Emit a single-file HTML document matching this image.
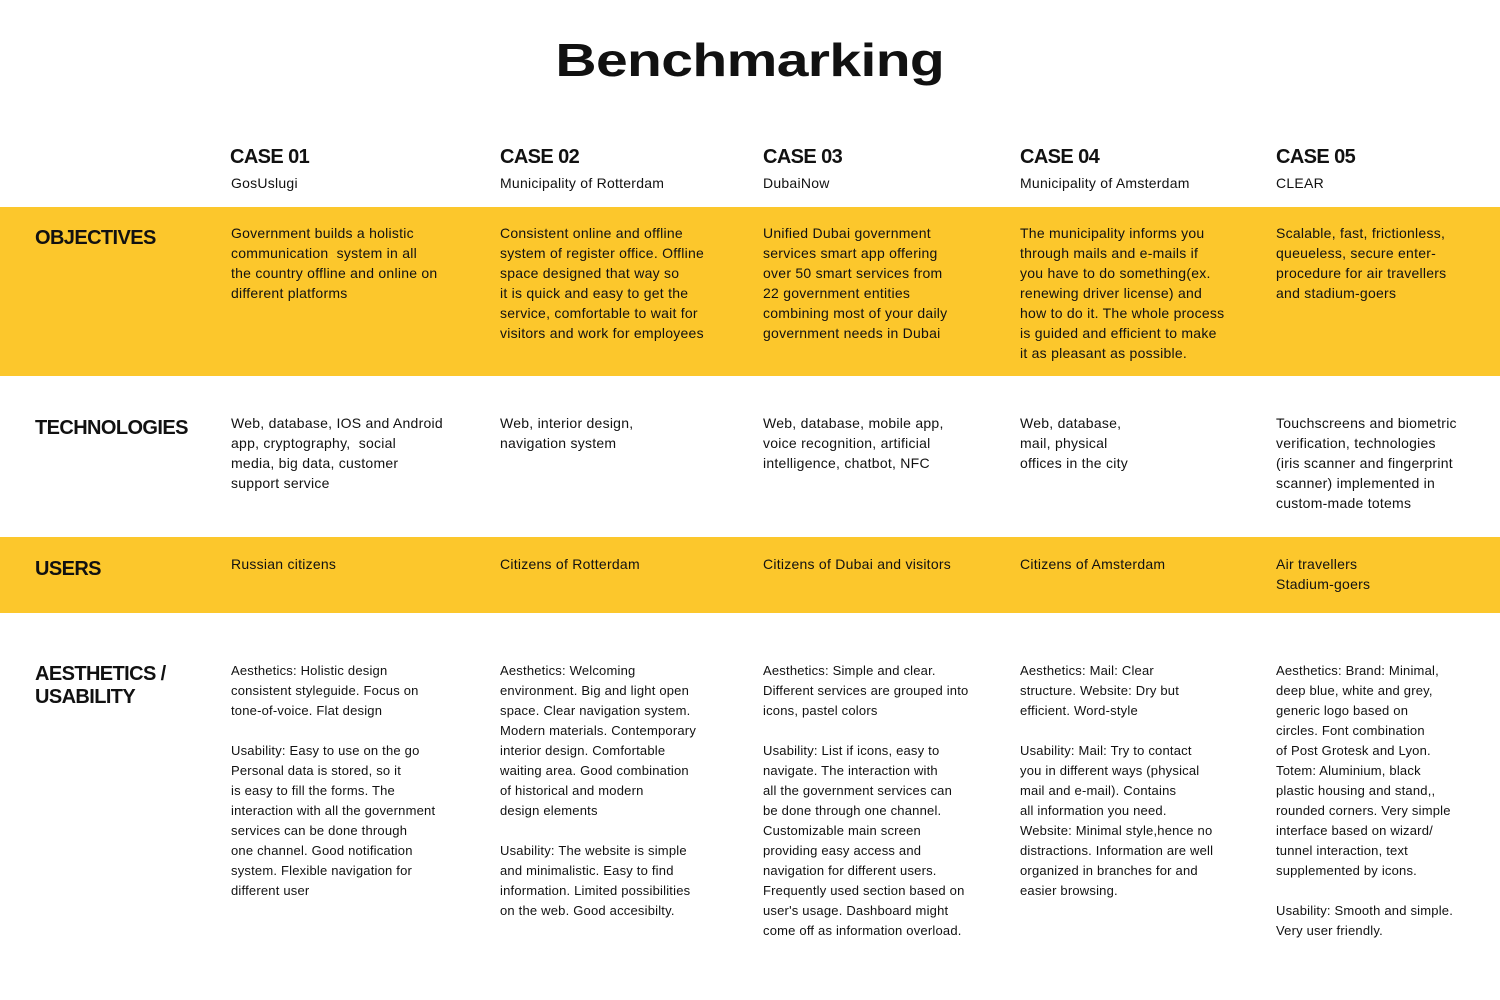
<!DOCTYPE html>
<html><head><meta charset="utf-8"><style>
body{margin:0;width:1500px;height:1000px;background:#fff;position:relative;overflow:hidden;font-family:"Liberation Sans",sans-serif;color:#111;}
.band{position:absolute;left:0;width:1500px;background:#fcc72c;}
.t{position:absolute;white-space:pre;font-size:14px;line-height:20px;letter-spacing:0.25px;}
.s{font-size:13px;letter-spacing:0.2px;}
.h{position:absolute;white-space:pre;font-size:20px;font-weight:bold;line-height:24px;letter-spacing:-0.6px;}
.title{position:absolute;left:0;width:1500px;top:33px;text-align:center;}
.title span{display:inline-block;font-size:46px;font-weight:bold;transform:scaleX(1.24);letter-spacing:-0.5px;}
</style></head><body>
<div class="band" style="top:207px;height:169px"></div>
<div class="band" style="top:537px;height:76px"></div>
<div class="title"><span>Benchmarking</span></div>

<div class="h" style="left:230px;top:145px">CASE 01</div>
<div class="h" style="left:500px;top:145px">CASE 02</div>
<div class="h" style="left:763px;top:145px">CASE 03</div>
<div class="h" style="left:1020px;top:145px">CASE 04</div>
<div class="h" style="left:1276px;top:145px">CASE 05</div>
<div class="t" style="left:231px;top:173px">GosUslugi</div>
<div class="t" style="left:500px;top:173px">Municipality of Rotterdam</div>
<div class="t" style="left:763px;top:173px">DubaiNow</div>
<div class="t" style="left:1020px;top:173px">Municipality of Amsterdam</div>
<div class="t" style="left:1276px;top:173px">CLEAR</div>

<div class="h" style="left:35px;top:226px">OBJECTIVES</div>
<div class="h" style="left:35px;top:416px">TECHNOLOGIES</div>
<div class="h" style="left:35px;top:557px">USERS</div>
<div class="h" style="left:35px;top:663px;line-height:23px">AESTHETICS /
USABILITY</div>

<div class="t" style="left:231px;top:223px">Government builds a holistic
communication  system in all
the country offline and online on
different platforms</div>
<div class="t" style="left:500px;top:223px">Consistent online and offline
system of register office. Offline
space designed that way so
it is quick and easy to get the
service, comfortable to wait for
visitors and work for employees</div>
<div class="t" style="left:763px;top:223px">Unified Dubai government
services smart app offering
over 50 smart services from
22 government entities
combining most of your daily
government needs in Dubai</div>
<div class="t" style="left:1020px;top:223px">The municipality informs you
through mails and e-mails if
you have to do something(ex.
renewing driver license) and
how to do it. The whole process
is guided and efficient to make
it as pleasant as possible.</div>
<div class="t" style="left:1276px;top:223px">Scalable, fast, frictionless,
queueless, secure enter-
procedure for air travellers
and stadium-goers</div>

<div class="t" style="left:231px;top:413px">Web, database, IOS and Android
app, cryptography,  social
media, big data, customer
support service</div>
<div class="t" style="left:500px;top:413px">Web, interior design,
navigation system</div>
<div class="t" style="left:763px;top:413px">Web, database, mobile app,
voice recognition, artificial
intelligence, chatbot, NFC</div>
<div class="t" style="left:1020px;top:413px">Web, database,
mail, physical
offices in the city</div>
<div class="t" style="left:1276px;top:413px">Touchscreens and biometric
verification, technologies
(iris scanner and fingerprint
scanner) implemented in
custom-made totems</div>

<div class="t" style="left:231px;top:554px">Russian citizens</div>
<div class="t" style="left:500px;top:554px">Citizens of Rotterdam</div>
<div class="t" style="left:763px;top:554px">Citizens of Dubai and visitors</div>
<div class="t" style="left:1020px;top:554px">Citizens of Amsterdam</div>
<div class="t" style="left:1276px;top:554px">Air travellers
Stadium-goers</div>

<div class="t s" style="left:231px;top:661px">Aesthetics: Holistic design
consistent styleguide. Focus on
tone-of-voice. Flat design

Usability: Easy to use on the go
Personal data is stored, so it
is easy to fill the forms. The
interaction with all the government
services can be done through
one channel. Good notification
system. Flexible navigation for
different user</div>
<div class="t s" style="left:500px;top:661px">Aesthetics: Welcoming
environment. Big and light open
space. Clear navigation system.
Modern materials. Contemporary
interior design. Comfortable
waiting area. Good combination
of historical and modern
design elements

Usability: The website is simple
and minimalistic. Easy to find
information. Limited possibilities
on the web. Good accesibilty.</div>
<div class="t s" style="left:763px;top:661px">Aesthetics: Simple and clear.
Different services are grouped into
icons, pastel colors

Usability: List if icons, easy to
navigate. The interaction with
all the government services can
be done through one channel.
Customizable main screen
providing easy access and
navigation for different users.
Frequently used section based on
user's usage. Dashboard might
come off as information overload.</div>
<div class="t s" style="left:1020px;top:661px">Aesthetics: Mail: Clear
structure. Website: Dry but
efficient. Word-style

Usability: Mail: Try to contact
you in different ways (physical
mail and e-mail). Contains
all information you need.
Website: Minimal style,hence no
distractions. Information are well
organized in branches for and
easier browsing.</div>
<div class="t s" style="left:1276px;top:661px">Aesthetics: Brand: Minimal,
deep blue, white and grey,
generic logo based on
circles. Font combination
of Post Grotesk and Lyon.
Totem: Aluminium, black
plastic housing and stand,,
rounded corners. Very simple
interface based on wizard/
tunnel interaction, text
supplemented by icons.

Usability: Smooth and simple.
Very user friendly.</div>
</body></html>
